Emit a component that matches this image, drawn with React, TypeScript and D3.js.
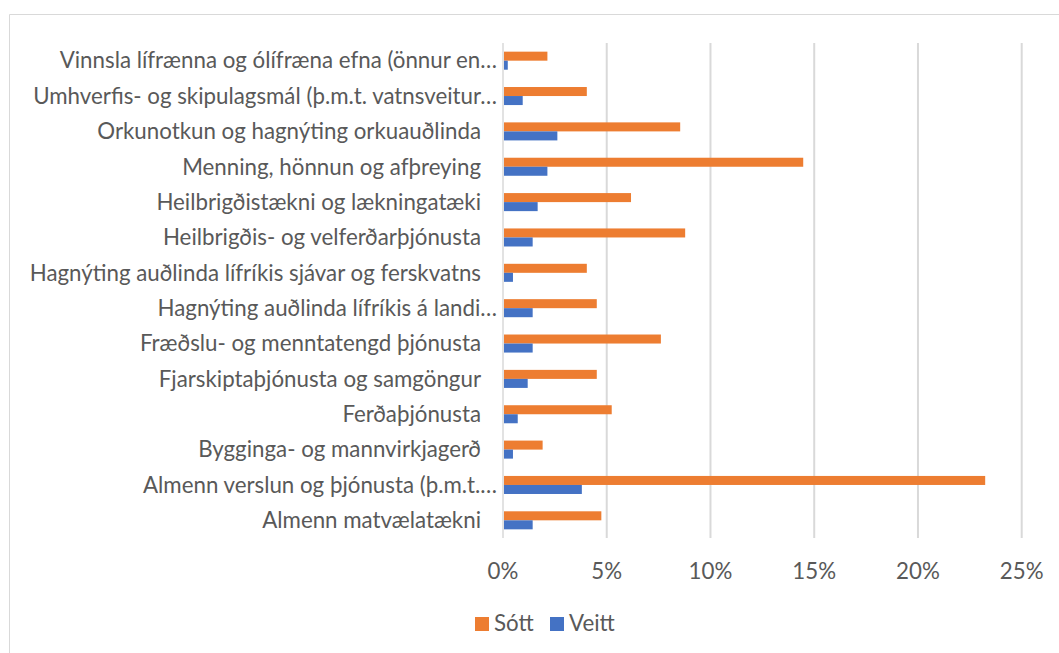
import React from 'react';
import * as d3 from 'd3';

const categories = [
  'Vinnsla lífrænna og ólífræna efna (önnur en…',
  'Umhverfis- og skipulagsmál (þ.m.t. vatnsveitur…',
  'Orkunotkun og hagnýting orkuauðlinda',
  'Menning, hönnun og afþreying',
  'Heilbrigðistækni og lækningatæki',
  'Heilbrigðis- og velferðarþjónusta',
  'Hagnýting auðlinda lífríkis sjávar og ferskvatns',
  'Hagnýting auðlinda lífríkis á landi…',
  'Fræðslu- og menntatengd þjónusta',
  'Fjarskiptaþjónusta og samgöngur',
  'Ferðaþjónusta',
  'Bygginga- og mannvirkjagerð',
  'Almenn verslun og þjónusta (þ.m.t.…',
  'Almenn matvælatækni',
];

// percent values, same order as categories
const sott = [2.14, 4.04, 8.54, 14.47, 6.17, 8.78, 4.04, 4.52, 7.61, 4.52, 5.24, 1.91, 23.24, 4.74];
const veitt = [0.23, 0.95, 2.62, 2.14, 1.67, 1.43, 0.48, 1.43, 1.43, 1.19, 0.71, 0.48, 3.8, 1.43];

const seriesNames = ['Sótt', 'Veitt'];
const seriesColors = ['#ED7D31', '#4472C4'];
const xTicks = [0, 5, 10, 15, 20, 25];

const W = 1059;
const H = 653;
const font = 'Lato, "Open Sans", sans-serif';
const fontSize = 22.3;
const textColor = '#595959';

const App: React.FC = () => {
  const x = d3.scaleLinear().domain([0, 25]).range([503, 1021.7]);
  const y0 = d3.scaleBand<string>().domain(categories).range([43, 538]);
  const y1 = d3.scaleBand<string>()
    .domain(seriesNames)
    .range([0, y0.bandwidth()])
    .paddingOuter(0.96);

  const values = [sott, veitt];

  return (
    <svg width={W} height={H} style={{ position: 'absolute', left: 0, top: 0 }}>
      <rect x={0} y={0} width={W} height={H} fill="#fff" />
      {/* chart border */}
      <path d={`M${W + 5},14.5 H9.5 V${H + 5}`} fill="none" stroke="#d9d9d9" strokeWidth={1} />

      {/* gridlines */}
      {xTicks.map(t => (
        <line key={t} x1={x(t)} x2={x(t)} y1={43} y2={538}
          stroke="#d9d9d9" strokeWidth={t === 0 ? 1.5 : 2} />
      ))}

      {/* bars */}
      {categories.map((c, i) => (
        <g key={c} transform={`translate(0,${y0(c)})`}>
          {seriesNames.map((s, j) => (
            <rect key={s}
              x={x(0) + 1}
              y={y1(s)}
              width={Math.max(0, x(values[j][i]) - x(0) - 1)}
              height={y1.bandwidth()}
              fill={seriesColors[j]} />
          ))}
        </g>
      ))}

      {/* category labels */}
      {categories.map(c => (
        <text key={c}
          x={c.endsWith('…') ? 497 : 481}
          y={(y0(c) || 0) + y0.bandwidth() / 2}
          dy="0.35em"
          textAnchor="end"
          fontFamily={font}
          fontSize={fontSize}
          fill={textColor}>{c}</text>
      ))}

      {/* x tick labels */}
      {xTicks.map(t => (
        <text key={t} x={x(t)} y={579} textAnchor="middle"
          fontFamily={font} fontSize={fontSize} fill={textColor}>{`${t}%`}</text>
      ))}

      {/* legend */}
      <g fontFamily={font} fontSize={fontSize} fill={textColor}>
        <rect x={475} y={617} width={14} height={14} fill={seriesColors[0]} />
        <text x={494} y={631}>{seriesNames[0]}</text>
        <rect x={550} y={617} width={14} height={14} fill={seriesColors[1]} />
        <text x={569} y={631}>{seriesNames[1]}</text>
      </g>
    </svg>
  );
};

export default App;
